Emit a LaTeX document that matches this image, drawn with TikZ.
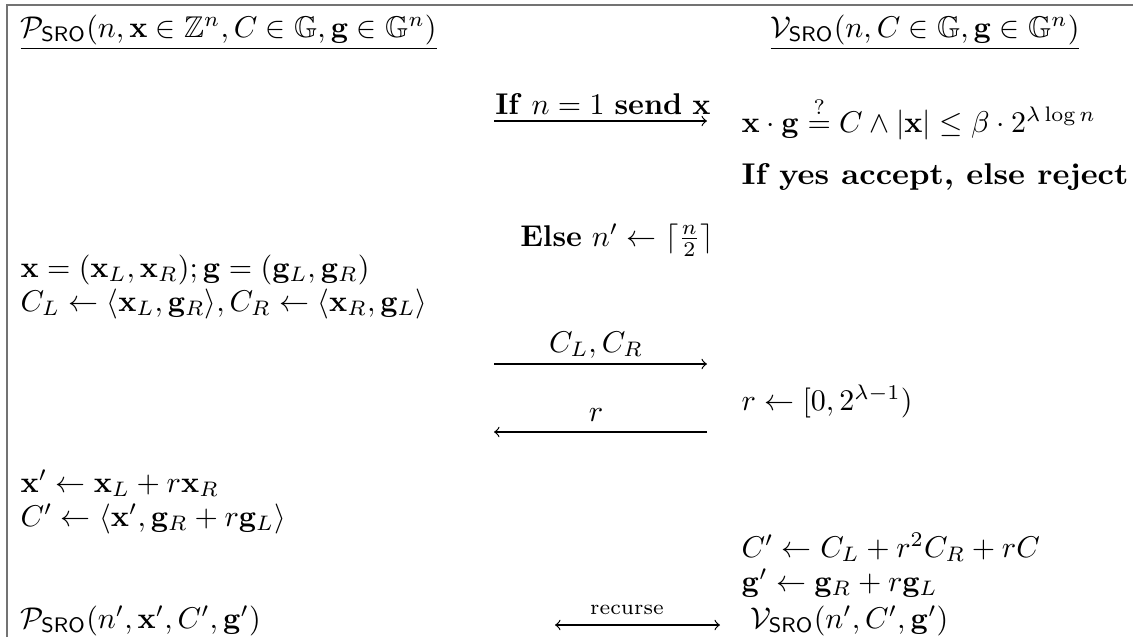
\documentclass[tikz,border=0pt]{standalone}
\usepackage{amsmath,amssymb,graphicx}
\begin{document}
\begin{tikzpicture}[x=0.3333pt,y=-0.3333pt,
  txt/.style={inner sep=0pt, anchor=base west},
  lbl/.style={inner sep=0pt, anchor=base},
  msg/.style={line width=0.4pt},
  frame/.style={draw=black!55, line width=0.5pt}]
\useasboundingbox (0,0) rectangle (1133,637);
\draw[frame] (7,637) -- (7,5) -- (1133,5);
% titles
\node[txt] (pt) at (20,37) {$\underline{\mathcal{P}_{\mathsf{SRO}}(n,\mathbf{x}\in\mathbb{Z}^n,C\in\mathbb{G},\mathbf{g}\in\mathbb{G}^n)}$};
\node[txt] (vt) at (770,37) {$\underline{\mathcal{V}_{\mathsf{SRO}}(n,C\in\mathbb{G},\mathbf{g}\in\mathbb{G}^n)}$};
% arrow 1
\coordinate (a1s) at (494,121);
\coordinate (a1e) at (707,121);
\draw[msg,->] (a1s) -- (a1e);
\node[lbl] (l1) at (603,114) {\textbf{If} $n=1$ \textbf{send} $\mathbf{x}$};
\node[txt] (chk) at (741,132) {$\mathbf{x}\cdot\mathbf{g}\stackrel{?}{=}C\wedge|\mathbf{x}|\leq\beta\cdot 2^{\lambda\log n}$};
\node[txt] (acc) at (741,184) {\scalebox{1.07}[1]{\textbf{If yes accept, else reject}}};
\node[lbl] (els) at (617,246) {\textbf{Else} $n'\leftarrow\lceil\frac{n}{2}\rceil$};
% prover split
\node[txt] (sp1) at (20,277) {$\mathbf{x}=(\mathbf{x}_L,\mathbf{x}_R);\mathbf{g}=(\mathbf{g}_L,\mathbf{g}_R)$};
\node[txt] (sp2) at (20,311) {$C_L\leftarrow\langle\mathbf{x}_L,\mathbf{g}_R\rangle,C_R\leftarrow\langle\mathbf{x}_R,\mathbf{g}_L\rangle$};
% arrow 2
\coordinate (a2s) at (494,364);
\coordinate (a2e) at (707,364);
\draw[msg,->] (a2s) -- (a2e);
\node[lbl] (l2) at (596,352) {$C_L,C_R$};
% arrow 3
\coordinate (a3s) at (707,432);
\coordinate (a3e) at (494,432);
\draw[msg,->] (a3s) -- (a3e);
\node[lbl] (l3) at (596,421) {$r$};
\node[txt] (rnd) at (741,410) {$r\leftarrow[0,2^{\lambda-1})$};
% prover fold
\node[txt] (f1) at (20,492) {$\mathbf{x}'\leftarrow\mathbf{x}_L+r\mathbf{x}_R$};
\node[txt] (f2) at (20,526) {$C'\leftarrow\langle\mathbf{x}',\mathbf{g}_R+r\mathbf{g}_L\rangle$};
% verifier fold
\node[txt] (v1) at (741,557) {$C'\leftarrow C_L+r^2C_R+rC$};
\node[txt] (v2) at (741,591) {$\mathbf{g}'\leftarrow\mathbf{g}_R+r\mathbf{g}_L$};
% recursion
\node[txt] (pr) at (20,628) {$\mathcal{P}_{\mathsf{SRO}}(n',\mathbf{x}',C',\mathbf{g}')$};
\node[txt] (vr) at (750,628) {$\mathcal{V}_{\mathsf{SRO}}(n',C',\mathbf{g}')$};
\coordinate (a4s) at (555,625);
\coordinate (a4e) at (720,625);
\draw[msg,<->] (a4s) -- (a4e);
\node[lbl] (l4) at (627,614) {\scriptsize recurse};
\end{tikzpicture}
\end{document}
